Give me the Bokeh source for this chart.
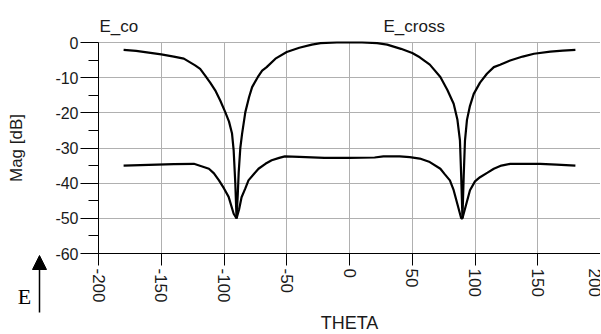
import math
from bokeh.plotting import figure
from bokeh.models import FixedTicker, Range1d, Label, Arrow, NormalHead, Grid
from bokeh.embed import file_html
from bokeh.resources import INLINE

# ---- data ----
theta_co = [-180, -170, -160, -150, -140, -132, -123, -119, -115, -111, -107, -103, -99, -96,
            -93.6, -92.3, -91, -90, -89, -88.3, -87, -85.6, -83, -80, -77.6, -73, -69.6, -66,
            -59, -50, -40, -30, -23, -10, 0, 10, 22, 30, 41, 50, 56, 64, 72.4, 78, 83, 86, 88,
            89, 90, 91, 92, 93.6, 96, 99, 104, 109.5, 115, 120, 128, 138, 147, 160, 170, 180]
mag_co = [-2.1, -2.4, -2.9, -3.4, -4.0, -4.6, -6.5, -7.5, -9.4, -11.4, -13.6, -16.5, -19.8, -22.5,
          -25.9, -30.7, -40, -50, -43, -37, -30, -26, -19.8, -15.5, -12.7, -9.8, -8.0, -7.0,
          -4.6, -2.7, -1.5, -0.6, -0.2, 0.0, 0.0, 0.0, -0.2, -0.6, -1.8, -3.0, -4.2, -6.3, -9.8,
          -13.5, -17.4, -22.0, -27.8, -38, -50, -38, -28, -22.0, -18.0, -14.6, -11.4, -8.9,
          -7.0, -6.3, -5.1, -4.0, -3.2, -2.6, -2.3, -2.1]

theta_cross = [-180, -160, -140, -124, -118, -112, -108, -104, -100, -96.3, -92.3, -90, -88, -86,
               -83, -80.5, -76, -72.5, -67, -62, -56, -51.5, -40, -20, 0, 20, 27, 40, 48, 56, 64,
               72.4, 76, 80, 83, 86, 89, 90, 93, 96, 100, 104, 110, 115, 121, 128, 140, 152, 165, 180]
mag_cross = [-35.0, -34.8, -34.6, -34.5, -35.2, -35.9, -37.2, -39.2, -41.5, -43.9, -48.7, -50.0,
             -47.5, -44.0, -41.5, -39.2, -37.3, -35.9, -34.5, -33.5, -32.8, -32.4, -32.5, -32.8,
             -32.8, -32.7, -32.4, -32.4, -32.6, -33.0, -34.0, -35.9, -37.5, -39.2, -42.0, -46.0,
             -50.0, -50.0, -46.0, -42.0, -39.5, -38.3, -37.0, -35.9, -35.0, -34.5, -34.5, -34.5,
             -34.7, -35.0]

x_ticks = [-200, -150, -100, -50, 0, 50, 100, 150, 200]
y_ticks = [-60, -50, -40, -30, -20, -10, 0]
y_minor = [-55, -45, -35, -25, -15, -5]
series_names = ["E_co", "E_cross"]

X_LIM = (x_ticks[0], x_ticks[-1])
Y_LIM = (y_ticks[0], y_ticks[-1])

FONT = "Liberation Sans"
TXT = "#1a1a1a"
GRID = "#b0b0b0"

W, H = 600, 334
# plot area of the reference: x -200..200 spans px 98..600, y 0..-60 spans px 42..253
PX_L, PX_R, PX_T, PX_B = 98, 600, 42, 253
sx = (PX_R - PX_L) / (X_LIM[1] - X_LIM[0])
sy = (PX_B - PX_T) / (Y_LIM[1] - Y_LIM[0])
x_range = Range1d(X_LIM[0] - PX_L / sx, X_LIM[1] + (W - PX_R) / sx)
y_range = Range1d(Y_LIM[0] - (H - PX_B) / sy, Y_LIM[1] + PX_T / sy)

p = figure(width=W, height=H, output_backend="svg", toolbar_location=None,
           x_range=x_range, y_range=y_range,
           min_border=0, min_border_left=0, min_border_right=0, min_border_top=0, min_border_bottom=0)
p.outline_line_color = None
p.background_fill_color = "white"
p.border_fill_color = "white"

# axes, drawn at the plot-area edges
p.xaxis.fixed_location = Y_LIM[0]
p.yaxis.fixed_location = X_LIM[0]
p.xaxis.bounds = X_LIM
p.yaxis.bounds = Y_LIM
p.xaxis.ticker = FixedTicker(ticks=x_ticks)
p.yaxis.ticker = FixedTicker(ticks=y_ticks, minor_ticks=y_minor)
p.xaxis.major_label_overrides = {t: str(t) for t in x_ticks}
p.yaxis.major_label_overrides = {t: str(t) for t in y_ticks}
for ax in (p.xaxis[0], p.yaxis[0]):
    ax.axis_line_color = "black"
    ax.axis_line_width = 1
    ax.major_tick_line_color = "black"
    ax.major_tick_in = 0
    ax.major_label_text_font = FONT
    ax.major_label_text_color = TXT
    ax.axis_label_text_font = FONT
    ax.axis_label_text_font_style = "normal"
    ax.axis_label_text_color = TXT

p.xaxis.major_tick_out = 12
p.xaxis.minor_tick_line_color = None
p.xaxis.major_label_orientation = -math.pi / 2
p.xaxis.major_label_text_font_size = "17px"
p.xaxis.major_label_standoff = 3
p.xaxis.axis_label = "THETA"
p.xaxis.axis_label_text_font_size = "18px"
p.xaxis.axis_label_standoff = 7

p.yaxis.major_tick_out = 18
p.yaxis.minor_tick_out = 10
p.yaxis.minor_tick_in = 0
p.yaxis.minor_tick_line_color = "black"
p.yaxis.major_label_text_font_size = "16px"
p.yaxis.major_label_standoff = 2
p.yaxis.axis_label = "Mag [dB]"
p.yaxis.axis_label_text_font_size = "17px"
p.yaxis.axis_label_standoff = 26

# grid limited to the plot area
if "cross_bounds" in Grid.properties():
    p.xgrid.ticker = FixedTicker(ticks=x_ticks)
    p.ygrid.ticker = FixedTicker(ticks=y_ticks)
    p.xgrid.bounds = X_LIM
    p.ygrid.bounds = Y_LIM
    p.xgrid.cross_bounds = Y_LIM
    p.ygrid.cross_bounds = X_LIM
    p.xgrid.grid_line_color = GRID
    p.ygrid.grid_line_color = GRID
else:
    p.xgrid.grid_line_color = None
    p.ygrid.grid_line_color = None
    p.segment(x0=x_ticks, y0=[Y_LIM[0]] * len(x_ticks), x1=x_ticks, y1=[Y_LIM[1]] * len(x_ticks),
              line_color=GRID, line_width=1, level="underlay")
    p.segment(x0=[X_LIM[0]] * len(y_ticks), y0=y_ticks, x1=[X_LIM[1]] * len(y_ticks), y1=y_ticks,
              line_color=GRID, line_width=1, level="underlay")

# curves
p.line(theta_co, mag_co, line_color="black", line_width=2.2)
p.line(theta_cross, mag_cross, line_color="black", line_width=2.2)

# series labels above the plot area (screen units: px from lower-left corner of the canvas)
p.add_layout(Label(x=99, y=H - 25.5, x_units="screen", y_units="screen", text=series_names[0],
                   text_font=FONT, text_font_size="17px", text_color=TXT,
                   text_align="left", text_baseline="alphabetic"))
p.add_layout(Label(x=383, y=H - 25.5, x_units="screen", y_units="screen", text=series_names[1],
                   text_font=FONT, text_font_size="17px", text_color=TXT,
                   text_align="left", text_baseline="alphabetic"))

# "E" with upward arrow at lower left
p.add_layout(Label(x=24, y=H - 296, x_units="screen", y_units="screen", text="E",
                   text_font="Liberation Serif", text_font_size="22px", text_color="black",
                   text_align="center", text_baseline="middle"))
p.add_layout(Arrow(x_start=39, y_start=H - 312, x_end=39, y_end=H - 255,
                   start_units="screen", end_units="screen",
                   line_color="black", line_width=1.5,
                   end=NormalHead(size=14, fill_color="black", line_color="black")))

open("out.html", "w").write(file_html(p, INLINE))
